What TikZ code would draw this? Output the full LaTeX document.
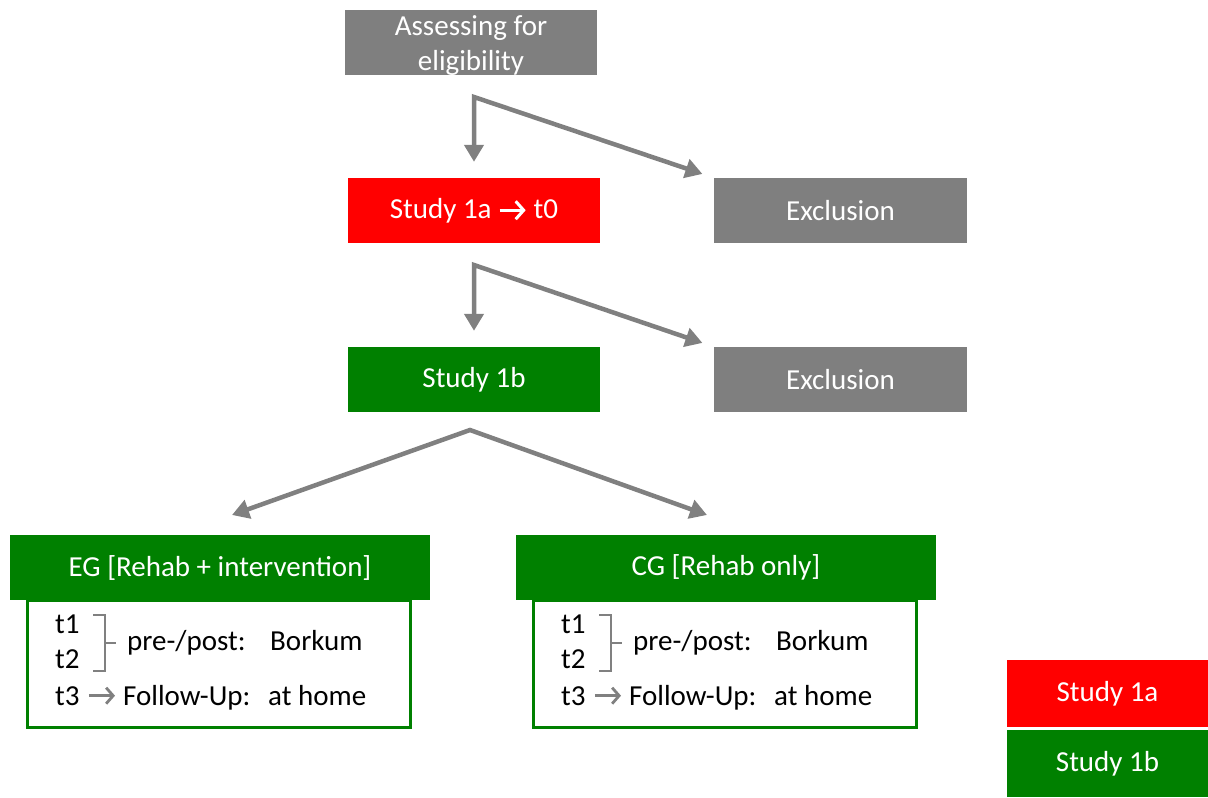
\documentclass[tikz,border=0pt]{standalone}
\usepackage{fontspec}
\setmainfont{Carlito}
\usetikzlibrary{arrows.meta}

\definecolor{boxgray}{HTML}{7F7F7F}
\definecolor{boxred}{HTML}{FF0000}
\definecolor{boxgreen}{HTML}{008000}
\definecolor{arrgray}{HTML}{808080}

% white chevron arrow used inside the Study 1a box
\newcommand{\chevarrow}{\tikz[baseline=-8pt]\draw[white,line width=3pt,-{Straight Barb[length=8pt,width=18pt]}] (0pt,0pt) -- (26pt,0pt);}

\begin{document}
\begin{tikzpicture}[x=1pt,y=-1pt,
	font=\fontsize{29}{35}\selectfont,
	>={Triangle[length=17pt,width=19pt]},
	box/.style={shape=rectangle,inner sep=0pt,minimum height=65pt,text=white,align=center},
	body/.style={shape=rectangle,draw=boxgreen,line width=3pt,fill=white,minimum width=383pt,minimum height=127pt},
	txt/.style={anchor=base west,inner sep=0pt,text=black},
	arr/.style={draw=arrgray,line width=4.5pt,line join=miter},
	brk/.style={draw=arrgray,line width=2.8pt},
	smallarr/.style={draw=arrgray,line width=2.8pt,-{Straight Barb[length=7pt,width=16pt]}}]
	
	\useasboundingbox (0,0) rectangle (1208,798);
	
	\node[box,fill=boxgray,minimum width=252pt] (elig) at (471,42.5)   {\rule{0pt}{26pt}Assessing for\\eligibility};
	\node[box,fill=boxred,minimum width=252pt]  (s1a)  at (474,210.5)  {Study 1a \chevarrow{} t0};
	\node[box,fill=boxgray,minimum width=253pt] (ex1)  at (840.5,210.5) {Exclusion};
	\node[box,fill=boxgreen,minimum width=252pt] (s1b) at (474,379.5)  {Study 1b};
	\node[box,fill=boxgray,minimum width=253pt] (ex2)  at (840.5,379.5) {Exclusion};
	
	\coordinate (f1) at (474,97);
	\coordinate (f2) at (474,265);
	\coordinate (f3) at (470,430);
	\coordinate (egtip) at (232,515);
	\coordinate (cgtip) at (707,515);
	
	\draw[arr,<->,shorten <=16pt,shorten >=12pt] (s1a.north) -- (f1) -- (ex1.north west);
	\draw[arr,<->,shorten <=16pt,shorten >=12pt] (s1b.north) -- (f2) -- (ex2.north west);
	\draw[arr,<->] (egtip) -- (f3) -- (cgtip);
	
	\foreach \g/\dx/\head in {eg/0/{EG [Rehab + intervention]},cg/506/{CG [Rehab only]}} {
		\begin{scope}[xshift=\dx]
			\node[body] (\g-body) at (218.5,663.5) {};
			\node[box,fill=boxgreen,minimum width=420pt] (\g-head) at (220,567.5) {\head};
			\node[txt] (\g-t1) at (55,633) {t1};
			\node[txt] (\g-t2) at (55,668) {t2};
			\node[txt] (\g-pre) at (127,650) {pre-/post:};
			\node[txt] (\g-bork) at (270,650) {Borkum};
			\node[txt] (\g-t3) at (55,705) {t3};
			\node[txt] (\g-fu) at (123,705) {Follow-Up:};
			\node[txt] (\g-home) at (268,705) {at home};
			\draw[brk] (93,615) -- (105,615) -- (105,671) -- (93,671) (105,643) -- (116,643);
			\draw[smallarr,shorten <=9pt,shorten >=8pt] (\g-t3.east) -- (\g-fu.west |- \g-t3.east);
		\end{scope}
	}
	
	\node[box,fill=boxred,minimum width=201pt,minimum height=67pt]   (lega) at (1107.5,693.5) {Study 1a};
	\node[box,fill=boxgreen,minimum width=201pt,minimum height=67pt] (legb) at (1107.5,763.5) {Study 1b};
	
\end{tikzpicture}
\end{document}
